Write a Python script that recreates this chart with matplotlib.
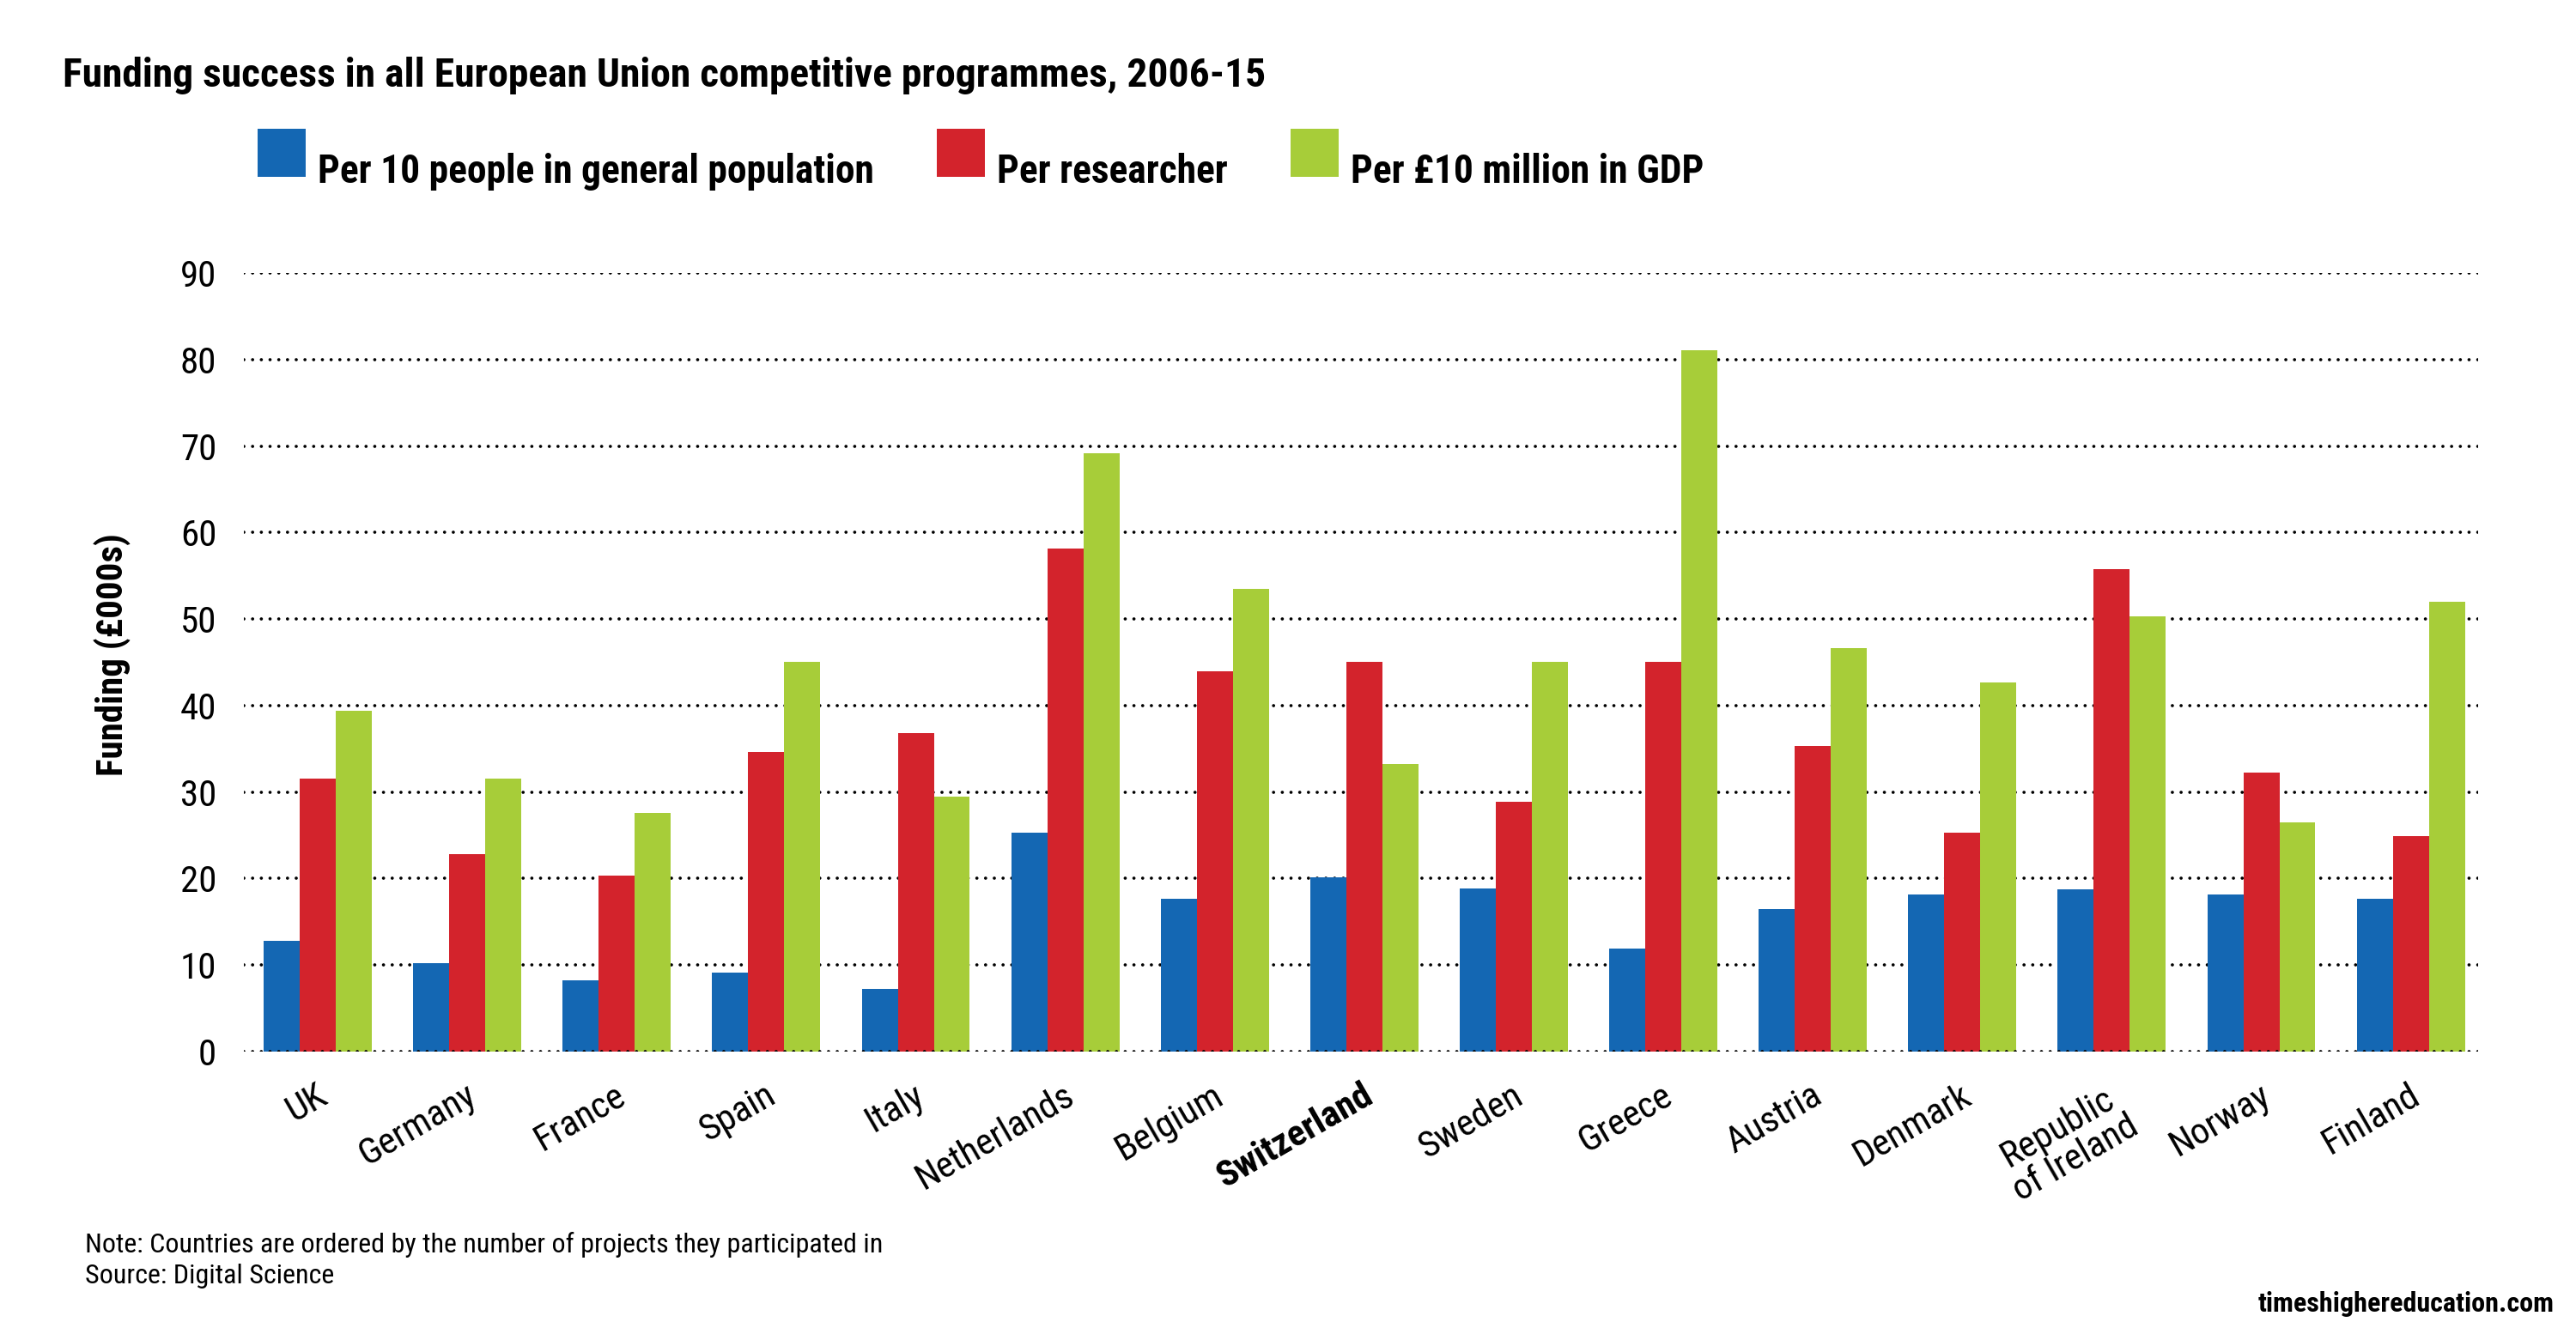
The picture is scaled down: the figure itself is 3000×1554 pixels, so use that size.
import numpy as np
import matplotlib
matplotlib.use("Agg")
import matplotlib.pyplot as plt
from matplotlib import font_manager as fm
from matplotlib.patches import Patch, Rectangle
from matplotlib.legend_handler import HandlerPatch
from matplotlib.transforms import ScaledTranslation

# --- data ----------------------------------------------------------------
countries = ["UK", "Germany", "France", "Spain", "Italy", "Netherlands",
             "Belgium", "Switzerland", "Sweden", "Greece", "Austria",
             "Denmark", "Republic\nof Ireland", "Norway", "Finland"]
per_population = [12.8, 10.2, 8.2, 9.1, 7.2, 25.3, 17.7, 20.1, 18.9, 11.9,
                  16.5, 18.2, 18.8, 18.2, 17.7]
per_researcher = [31.6, 22.8, 20.3, 34.6, 36.8, 58.1, 44.0, 45.0, 28.9, 45.0,
                  35.3, 25.3, 55.8, 32.2, 24.9]
per_gdp = [39.4, 31.6, 27.6, 45.0, 29.5, 69.2, 53.5, 33.2, 45.0, 81.1,
           46.6, 42.7, 50.3, 26.5, 52.0]
series_labels = ["Per 10 people in general population", "Per researcher",
                 "Per £10 million in GDP"]
yticks = [0, 10, 20, 30, 40, 50, 60, 70, 80, 90]

BLUE, RED, GREEN = "#1467b3", "#d3232c", "#a7cd39"
DPI = 200

# condensed face if one is installed, else a plain sans
have = {f.name for f in fm.fontManager.ttflist}
FONT = next((f for f in ["Roboto Condensed", "Liberation Sans Narrow",
                         "Open Sans Condensed", "Liberation Sans", "Roboto"]
             if f in have), "DejaVu Sans")
plt.rcParams["font.family"] = [FONT, "DejaVu Sans"]

fig = plt.figure(figsize=(15, 7.77), dpi=DPI)
ax = fig.add_axes([0.0947, 0.2117, 0.8673, 0.5837])

x = np.arange(len(countries))
w = 0.241
for off, vals, col, lab in zip((-w, 0, w),
                               (per_population, per_researcher, per_gdp),
                               (BLUE, RED, GREEN), series_labels):
    ax.bar(x + off, vals, w, color=col, linewidth=0, label=lab, zorder=2)

# round black dots, ~10 px apart
for v in yticks:
    ax.axhline(v, color="black", lw=1.35, dashes=(0.01, 2.7),
               dash_capstyle="round", zorder=3 if v == 0 else 1)

ax.set_xlim(-0.494, 14.45)
ax.set_ylim(0, 90)
ax.set_yticks(yticks)
ax.tick_params(axis="y", length=0, pad=11.5, labelsize=15.5)
ax.tick_params(axis="x", length=0, pad=11)
for s in ax.spines.values():
    s.set_visible(False)

ax.set_xticks(x)
ax.set_xticklabels(countries, rotation=30, ha="right", va="top",
                   rotation_mode="anchor", fontsize=15.5,
                   multialignment="center", linespacing=1.0)
shift = ScaledTranslation(-3 / DPI, 0, fig.dpi_scale_trans)
for i, t in enumerate(ax.get_xticklabels()):
    t.set_transform(t.get_transform() + shift)
    if countries[i] == "Switzerland":
        t.set_fontweight("bold")

ax.set_ylabel("Funding (£000s)", fontsize=15.5, fontweight="bold")
ax.yaxis.set_label_coords(-0.0503, 0.51)

fig.text(73 / 3000, 1 - 88 / 1554,
         "Funding success in all European Union competitive programmes, 2006-15",
         fontsize=17.1, fontweight="bold", ha="left", va="center")


# legend squares: true squares, sitting a little higher than their labels
def raised_square(legend, orig_handle, xdescent, ydescent, width, height,
                  fontsize):
    return Rectangle((-xdescent, -ydescent + 5.5), width, width)


handles = [Patch(color=c, linewidth=0) for c in (BLUE, RED, GREEN)]
fig.legend(handles, series_labels, loc="upper left",
           bbox_to_anchor=(300 / 3000, 1 - 174 / 1554), ncol=3, frameon=False,
           prop={"weight": "bold", "size": 16.4}, handlelength=1.23,
           handleheight=1.23, handletextpad=0.31, columnspacing=1.6,
           borderpad=0, borderaxespad=0,
           handler_map={Patch: HandlerPatch(patch_func=raised_square)})

fig.text(99 / 3000, 1 - 1459 / 1554,
         "Note: Countries are ordered by the number of projects they participated in",
         fontsize=11.5, ha="left", va="baseline")
fig.text(99 / 3000, 1 - 1495 / 1554, "Source: Digital Science",
         fontsize=11.5, ha="left", va="baseline")
fig.text(2975 / 3000, 1 - 1528 / 1554, "timeshighereducation.com",
         fontsize=11.6, fontweight="bold", ha="right", va="baseline")

fig.savefig("out.png", dpi=DPI, facecolor="white")
